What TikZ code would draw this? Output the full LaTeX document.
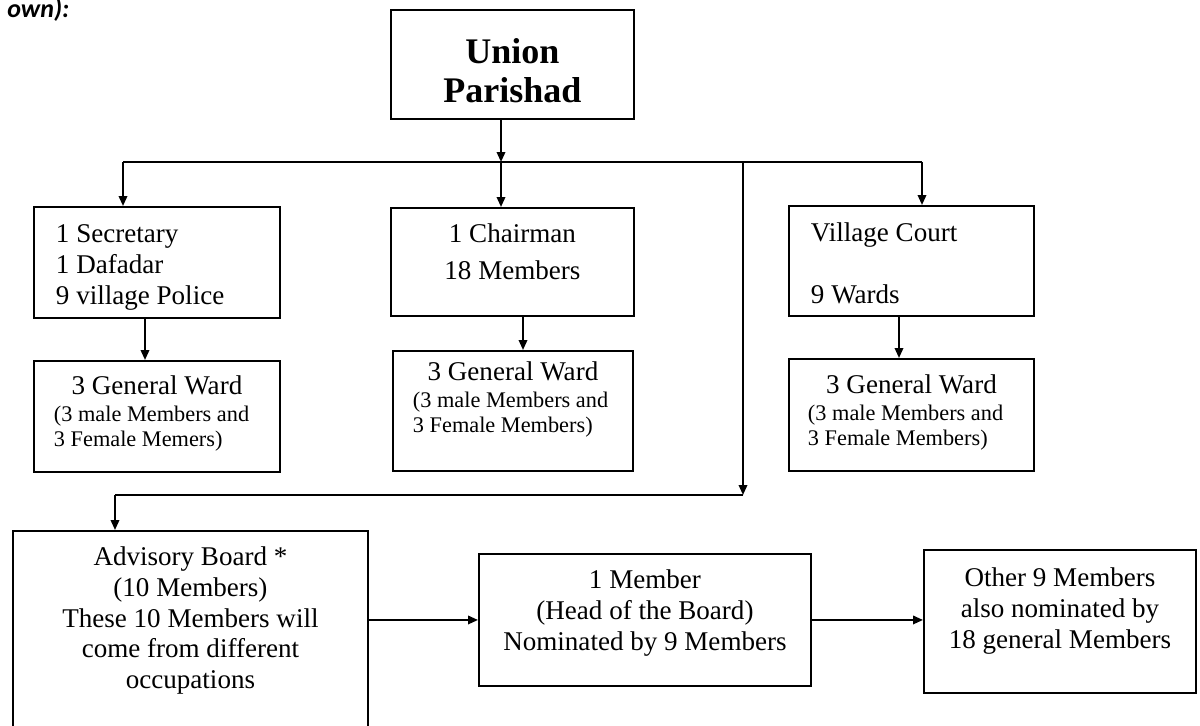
\documentclass[tikz,border=0pt]{standalone}
\usepackage{fontspec}
\setmainfont{Liberation Serif}
\newfontfamily\capfont{Carlito}
\usetikzlibrary{arrows.meta}
\newlength\pxl
\setlength\pxl{0.02cm}
\newcommand\txtsz{\fontsize{15.4pt}{17.4pt}\selectfont}
\newcommand\smlsz{\fontsize{12.7pt}{13.9pt}\selectfont}
\newcommand\bigsz{\fontsize{20.5pt}{22.2pt}\selectfont}

\begin{document}
\begin{tikzpicture}[x=0.02cm,y=-0.02cm]
\tikzstyle{every node}+=[inner sep=0pt]
\tikzstyle{box}=[draw,line width=1.1pt,anchor=north west,font=\txtsz]
\tikzstyle{link}=[line width=1.1pt,-{Triangle[length=0.2cm,width=0.17cm]}]
\useasboundingbox (0,0) rectangle (1200,726);
\clip (0,0) rectangle (1200,726);
\node[anchor=base west,font={\capfont\bfseries\itshape\fontsize{14.8pt}{16pt}\selectfont}] (caption) at (7,18) {own):};
\node[box,text width=243\pxl,align=flush center,text height=54\pxl,text depth=55\pxl,font=\bigsz\bfseries] (union) at (390,9) {Union\\Parishad};
\node[box,text width=202\pxl,inner xsep=22\pxl,align=flush left,text height=36\pxl,text depth=75\pxl] (sec) at (33,206) {1 Secretary\\1 Dafadar\\9 village Police};
\node[box,text width=243\pxl,align=flush center,text height=35\pxl,text depth=73\pxl] (chair) at (390,207) {1 Chairman\\[5.5\pxl]18 Members};
\node[box,text width=201\pxl,inner xsep=22\pxl,align=flush left,text height=36\pxl,text depth=74\pxl] (court) at (788,205) {Village Court\\[30.5\pxl]9 Wards};
\node[box,text width=206\pxl,inner xsep=20\pxl,align=flush left,text height=34\pxl,text depth=77\pxl] (ward1) at (33,360) {\makebox[\linewidth]{3 General Ward}\\[2.5\pxl]\smlsz (3 male Members and\\[-6\pxl]3 Female Memers)};
\node[box,text width=200\pxl,inner xsep=20\pxl,align=flush left,text height=30\pxl,text depth=90\pxl] (ward2) at (392,350) {\makebox[\linewidth]{3 General Ward}\\[2.5\pxl]\smlsz (3 male Members and\\[-6\pxl]3 Female Members)};
\node[box,text width=207\pxl,inner xsep=19\pxl,align=flush left,text height=35\pxl,text depth=77\pxl] (ward3) at (788,358) {\makebox[\linewidth]{3 General Ward}\\[2.5\pxl]\smlsz (3 male Members and\\[-6\pxl]3 Female Members)};
\node[box,text width=355\pxl,align=flush center,text height=35\pxl,text depth=220\pxl] (adv) at (12,530) {Advisory Board *\\(10 Members)\\These 10 Members will\\come from different\\occupations};
\node[box,text width=332\pxl,align=flush center,text height=35\pxl,text depth=97\pxl] (head) at (478,553) {1 Member\\(Head of the Board)\\Nominated by 9 Members};
\node[box,text width=272\pxl,align=flush center,text height=37\pxl,text depth=106\pxl] (other) at (923,549) {Other 9 Members\\also nominated by\\18 general Members};
\coordinate (busL) at (123,162);
\coordinate (busC) at (501,162);
\coordinate (busM) at (743,162);
\coordinate (busR) at (922,162);
\coordinate (advJ) at (743,495);
\coordinate (advL) at (115,495);
\draw[link] (busC |- union.south) -- (busC);
\draw[line width=1.1pt] (busL) -- (busR);
\draw[link] (busL) -- (busL |- sec.north);
\draw[link] (busC) -- (busC |- chair.north);
\draw[link] (busR) -- (busR |- court.north);
\draw[link] (busM) -- (advJ);
\draw[line width=1.1pt] (advJ) -- (advL);
\draw[link] (advL) -- (advL |- adv.north);
\draw[link] ([xshift=112\pxl]sec.south west) -- ([xshift=112\pxl]sec.south west |- ward1.north);
\draw[link] ([xshift=133\pxl]chair.south west) -- ([xshift=133\pxl]chair.south west |- ward2.north);
\draw[link] ([xshift=111\pxl]court.south west) -- ([xshift=111\pxl]court.south west |- ward3.north);
\draw[link] (head.west -| adv.east) -- (head.west);
\draw[link] (head.east) -- (head.east -| other.west);
\end{tikzpicture}
\end{document}
